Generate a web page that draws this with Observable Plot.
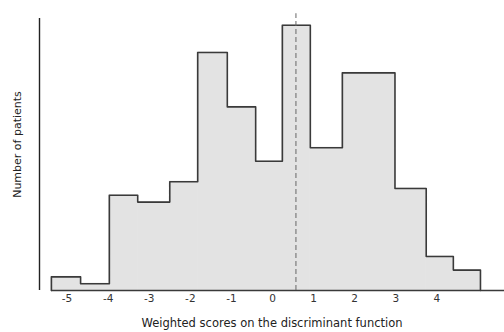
<!DOCTYPE html>
<html>
<head>
<meta charset="utf-8">
<script src="https://cdn.jsdelivr.net/npm/d3@7"></script>
<script src="https://cdn.jsdelivr.net/npm/@observablehq/plot@0.6"></script>
<style>
  html, body { margin: 0; padding: 0; background: #fff; }
  #chart svg { display: block; }
</style>
</head>
<body>
<div id="chart"></div>
<script>
// Bin edges (weighted score) and patient counts
const binEdges = [-5.38, -4.67, -3.97, -3.28, -2.5, -1.82, -1.1, -0.41, 0.24, 0.92, 1.7, 2.98, 3.74, 4.4, 5.06];
const patientCounts = [2, 1, 14, 13, 16, 35, 27, 19, 39, 21, 32, 15, 5, 3];
const xTickValues = [-5, -4, -3, -2, -1, 0, 1, 2, 3, 4];
const cutoffScore = 0.57;
const xLabel = "Weighted scores on the discriminant function";
const yLabel = "Number of patients";

const xDomain = [-5.67, 5.645];
const yDomain = [0, 40];

const bins = patientCounts.map((c, i) => ({x1: binEdges[i], x2: binEdges[i + 1], count: c}));
const outline = [{x: binEdges[0], y: 0}];
bins.forEach(b => { outline.push({x: b.x1, y: b.count}); outline.push({x: b.x2, y: b.count}); });
outline.push({x: binEdges[binEdges.length - 1], y: 0});

const chart = Plot.plot({
  width: 504,
  height: 332,
  marginLeft: 39,
  marginRight: 0,
  marginTop: 18,
  marginBottom: 42,
  style: {fontFamily: "DejaVu Sans", fontSize: "11px", color: "#333", background: "#fff"},
  x: {domain: xDomain, label: null},
  y: {domain: yDomain, label: null, axis: null},
  marks: [
    Plot.rectY(bins, {x1: "x1", x2: "x2", y: "count", fill: "#e3e3e3", stroke: "#e3e3e3", strokeWidth: 1}),
    Plot.line(outline, {x: "x", y: "y", stroke: "#3a3a3a", strokeWidth: 1.6}),
    Plot.ruleY([0], {x1: binEdges[0], x2: xDomain[1], stroke: "#3a3a3a", strokeWidth: 1.6}),
    Plot.ruleX([xDomain[0]], {y1: yDomain[0], y2: yDomain[1], stroke: "#222", strokeWidth: 1.4}),
    Plot.ruleX([cutoffScore], {y1: 0, y2: 40.7, stroke: "#666", strokeWidth: 1, strokeDasharray: "5,3"}),
    Plot.axisX({ticks: xTickValues, tickSize: 0, tickPadding: 4, tickFormat: d => String(d), fontSize: 10.5, fill: "#333"}),
    Plot.axisX({ticks: [], label: xLabel, labelAnchor: "center", labelOffset: 36, labelArrow: "none", fontSize: 11.5, fill: "#222"}),
    Plot.text([yLabel], {frameAnchor: "left", textAnchor: "middle", rotate: -90, dx: -22, dy: -10, fontSize: 11, fill: "#222"})
  ]
});
document.getElementById("chart").appendChild(chart);
</script>
</body>
</html>
